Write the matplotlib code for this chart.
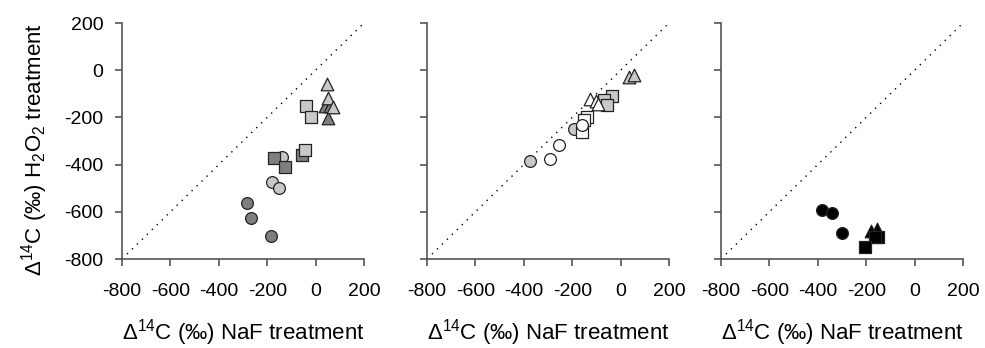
import matplotlib
matplotlib.use("Agg")
import matplotlib.pyplot as plt

plt.rcParams['font.family'] = ['Liberation Sans', 'DejaVu Sans']
plt.rcParams['mathtext.fontset'] = 'custom'
plt.rcParams['mathtext.rm'] = 'Liberation Sans'
plt.rcParams['mathtext.it'] = 'Liberation Sans:italic'

DARK = '#7f7f7f'
LIGHT = '#c8c8c8'
BLACK = '#000000'
WHITE = '#ffffff'

# Panel 1
p1_dark_circle_x = [-285, -268, -186]
p1_dark_circle_y = [-564, -628, -703]
p1_light_circle_x = [-140, -181, -151]
p1_light_circle_y = [-367, -472, -498]
p1_dark_square_x = [-172, -126, -55]
p1_dark_square_y = [-373, -409, -359]
p1_light_square_x = [-44, -41, -20]
p1_light_square_y = [-338, -152, -200]
p1_dark_tri_x = [40, 60, 53]
p1_dark_tri_y = [-152, -150, -204]
p1_light_tri_x = [46, 53, 70]
p1_light_tri_y = [-60, -116, -158]

# Panel 2
p2_light_circle_x = [-375, -193]
p2_light_circle_y = [-383, -250]
p2_open_circle_x = [-293, -255, -158]
p2_open_circle_y = [-378, -317, -232]
p2_open_square_x = [-140, -150, -160]
p2_open_square_y = [-200, -212, -260]
p2_light_square_x = [-34, -68, -55]
p2_light_square_y = [-108, -126, -147]
p2_open_tri_x = [-127, -100, -95]
p2_open_tri_y = [-122, -130, -145]
p2_light_tri_x = [35, 56]
p2_light_tri_y = [-27, -20]

# Panel 3
p3_circle_x = [-384, -343, -301]
p3_circle_y = [-592, -606, -689]
p3_tri_x = [-180, -154]
p3_tri_y = [-680, -672]
p3_square_x = [-150, -164, -205]
p3_square_y = [-708, -708, -750]

xticks = [-800, -600, -400, -200, 0, 200]
yticks = [-800, -600, -400, -200, 0, 200]

fig = plt.figure(figsize=(9.85, 3.48), dpi=100)
W, H = 985, 348
lefts = [122, 427, 721]
aw, ah = 242, 236
bottom_px = 259

axes = []
for l in lefts:
    ax = fig.add_axes([l / W, (H - bottom_px) / H, aw / W, ah / H])
    axes.append(ax)

EDGE = '#222222'
CS, SS, TS = 72, 64, 82

def sc(ax, x, y, marker, fc, s):
    ax.scatter(x, y, marker=marker, s=s, facecolor=fc, edgecolor=EDGE,
               linewidths=0.9, zorder=3, clip_on=False)

ax = axes[0]
sc(ax, p1_dark_circle_x, p1_dark_circle_y, 'o', DARK, CS)
sc(ax, p1_light_circle_x, p1_light_circle_y, 'o', LIGHT, CS)
sc(ax, p1_dark_square_x, p1_dark_square_y, 's', DARK, SS)
sc(ax, p1_light_square_x, p1_light_square_y, 's', LIGHT, SS)
sc(ax, p1_dark_tri_x, p1_dark_tri_y, '^', DARK, TS)
sc(ax, p1_light_tri_x, p1_light_tri_y, '^', LIGHT, TS)

ax = axes[1]
sc(ax, p2_light_circle_x, p2_light_circle_y, 'o', LIGHT, CS)
sc(ax, p2_open_square_x, p2_open_square_y, 's', WHITE, SS)
sc(ax, p2_open_circle_x, p2_open_circle_y, 'o', WHITE, CS)
sc(ax, p2_light_square_x, p2_light_square_y, 's', LIGHT, SS)
sc(ax, p2_open_tri_x, p2_open_tri_y, '^', WHITE, TS)
sc(ax, p2_light_tri_x, p2_light_tri_y, '^', LIGHT, TS)

ax = axes[2]
sc(ax, p3_circle_x, p3_circle_y, 'o', BLACK, CS)
sc(ax, p3_tri_x, p3_tri_y, '^', BLACK, TS)
sc(ax, p3_square_x, p3_square_y, 's', BLACK, SS)

xlabel = 'Δ$^{14}$C (‰) NaF treatment'
ylabel = 'Δ$^{14}$C (‰) H$_2$O$_2$ treatment'

for i, ax in enumerate(axes):
    ax.plot([-800, 200], [-800, 200], linestyle=(0, (1, 4)), color='black',
            linewidth=1.0, zorder=1)
    ax.set_xlim(-800, 200)
    ax.set_ylim(-800, 200)
    ax.set_xticks(xticks)
    ax.set_yticks(yticks)
    ax.set_xticklabels([str(t) for t in xticks], fontsize=14)
    for s in ['top', 'right']:
        ax.spines[s].set_visible(False)
    for s in ['left', 'bottom']:
        ax.spines[s].set_color('#555555')
        ax.spines[s].set_linewidth(1.2)
    ax.tick_params(direction='out', length=5, width=1.2, color='#555555',
                   labelcolor='black')
    ax.tick_params(axis='x', pad=12.5)
    ax.tick_params(axis='y', pad=8.5)
    ax.set_xlabel(xlabel, fontsize=16)
    ax.xaxis.label.set_va('baseline')
    ax.xaxis.set_label_coords(0.5, -0.340)
    if i == 0:
        ax.set_yticklabels([str(t) for t in yticks], fontsize=14)
        ax.set_ylabel(ylabel, fontsize=16)
        ax.yaxis.label.set_va('baseline')
        ax.yaxis.set_label_coords(-0.331, 0.462)
    else:
        ax.set_yticklabels([])

fig.savefig('out.png', dpi=100)
